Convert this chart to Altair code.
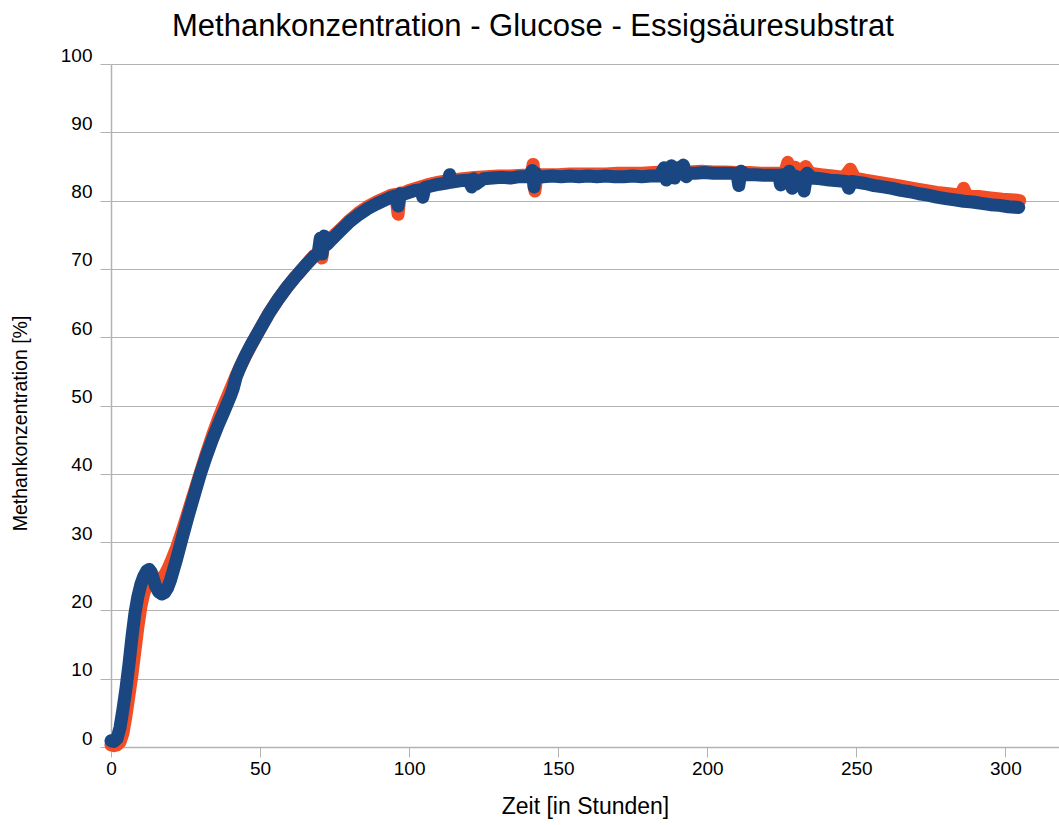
import altair as alt
import pandas as pd

TITLE = "Methankonzentration - Glucose - Essigsäuresubstrat"
X_TICKS = [0, 50, 100, 150, 200, 250, 300]
Y_TICKS = [0, 10, 20, 30, 40, 50, 60, 70, 80, 90, 100]

BLUE = [
    (0, 0.9), (1, 0.8), (2, 1.2), (3, 2.8), (4, 5.5), (5, 8.5), (6, 12), (7, 16), (8, 19.5),
    (9, 22), (10, 23.8), (11, 25), (12, 25.8), (12.8, 26), (13.5, 25.6), (14.3, 24.5), (15, 23.5),
    (16, 22.7), (17, 22.4), (18, 22.6), (19, 23.3), (20, 24.5), (21, 26), (22, 27.5), (24, 30.8),
    (26, 34), (28, 37), (30, 40), (32, 42.6), (34, 45), (36, 47.2), (38, 49.2), (40, 51.3),
    (41, 52.5), (42, 54.2), (43, 55.3), (45, 57.2), (47, 58.9), (50, 61.2), (53, 63.5), (56, 65.5),
    (59, 67.3), (62, 68.9), (65, 70.4), (68, 71.8), (69.5, 72.3), (70.2, 74.5), (70.8, 72.2),
    (71.5, 74.8), (72.5, 73.6), (74, 74.3), (77, 75.6), (80, 76.9), (83, 77.9), (86, 78.8),
    (89, 79.5), (92, 80.1), (94, 80.5), (95.5, 80.7), (96.3, 79.2), (97, 81.0), (98, 80.9),
    (100, 81.2), (102, 81.5), (104, 81.6), (104.6, 80.5), (105.3, 81.9), (107, 82.1), (110, 82.4),
    (113, 82.6), (113.6, 83.8), (114.3, 82.7), (117, 82.9), (120, 83.0), (121, 82.0), (121.7, 83.2),
    (122.4, 82.4), (125, 83.2), (128, 83.3), (131, 83.4), (134, 83.3), (137, 83.5), (140, 83.5),
    (141.3, 84.4), (141.9, 82.0), (142.5, 84.0), (143.2, 83.4), (145, 83.5), (148, 83.6),
    (151, 83.5), (154, 83.6), (157, 83.5), (160, 83.6), (163, 83.5), (166, 83.6), (169, 83.5),
    (172, 83.5), (175, 83.6), (178, 83.5), (181, 83.6), (184, 83.6), (185.5, 84.8), (186.3, 83.0),
    (187, 84.1), (188, 85.1), (189, 83.3), (190, 84.8), (191, 83.9), (192, 85.2), (193, 83.5),
    (194, 84.0), (196, 84.0), (199, 84.1), (202, 84.0), (205, 84.0), (208, 84.0), (210, 83.9),
    (210.6, 82.2), (211.3, 84.3), (213, 83.8), (216, 83.8), (219, 83.7), (222, 83.7), (224, 83.7),
    (224.6, 82.3), (225.3, 83.8), (226.5, 83.0), (227.5, 84.3), (228.5, 81.8), (229.5, 83.6),
    (230.5, 82.2), (231.5, 83.4), (232.5, 81.4), (233.5, 84.0), (235, 83.3), (238, 83.2),
    (241, 83.0), (244, 82.9), (246.5, 82.8), (247.5, 81.8), (248.5, 82.8), (250, 82.7),
    (253, 82.5), (256, 82.2), (259, 82.0), (262, 81.8), (265, 81.5), (268, 81.3), (271, 81.0),
    (274, 80.8), (277, 80.5), (280, 80.3), (283, 80.1), (286, 79.9), (289, 79.8), (292, 79.6),
    (295, 79.4), (298, 79.3), (301, 79.1), (304.5, 79.0),
]

ORANGE = [
    (0, 0.3), (1, 0.2), (2, 0.3), (3, 0.7), (4, 2.0), (5, 4.5), (6, 7.5), (7, 10.5), (8, 14),
    (9, 17.5), (10, 20.5), (11, 22.5), (12, 23.7), (13, 24.3), (14, 24.6), (15, 24.7), (16, 24.6),
    (17, 24.7), (18, 25.2), (19, 26.0), (20, 27.0), (22, 29.2), (24, 31.8), (26, 34.6), (28, 37.4),
    (30, 40.2), (32, 43.0), (34, 45.6), (36, 48.0), (38, 50.2), (40, 52.3), (42, 54.4), (44, 56.3),
    (46, 58.0), (48, 59.6), (50, 61.2), (53, 63.5), (56, 65.5), (59, 67.3), (62, 68.9), (65, 70.4),
    (68, 71.9), (70, 72.4), (70.7, 71.6), (71.5, 74.0), (73, 74.0), (75, 75.0), (77, 75.8),
    (80, 77.1), (83, 78.2), (86, 79.1), (89, 79.8), (92, 80.4), (94, 80.8), (95.5, 80.9),
    (96.3, 78.0), (97, 81.1), (98, 81.1), (100, 81.5), (103, 81.9), (106, 82.3), (110, 82.7),
    (114, 83.0), (118, 83.2), (122, 83.4), (126, 83.5), (130, 83.6), (134, 83.6), (138, 83.7),
    (141, 83.7), (141.6, 85.3), (142.2, 81.4), (142.9, 83.8), (146, 83.8), (150, 83.8),
    (154, 83.9), (158, 83.9), (162, 83.9), (166, 83.9), (170, 84.0), (174, 84.0), (178, 84.0),
    (182, 84.1), (186, 84.2), (190, 84.2), (194, 84.2), (198, 84.3), (202, 84.2), (206, 84.2),
    (210, 84.1), (214, 84.1), (218, 84.0), (222, 84.0), (226, 84.0), (227, 85.6), (228, 84.2),
    (229.5, 84.9), (231, 84.0), (233, 85.0), (234.5, 84.0), (238, 83.8), (242, 83.6), (246, 83.4),
    (248, 84.6), (249.5, 83.3), (253, 83.0), (257, 82.7), (261, 82.4), (265, 82.1), (269, 81.8),
    (273, 81.5), (277, 81.2), (281, 81.0), (285, 80.8), (286, 81.8), (287, 80.8), (291, 80.6),
    (295, 80.4), (299, 80.2), (303, 80.1), (304.8, 80.0),
]

BLUE_COLOR = "#1a4781"
ORANGE_COLOR = "#f24d24"
GRID = "#b3b3b3"
FONT = "Liberation Sans"

df_blue = pd.DataFrame(BLUE, columns=["t", "v"])
df_orange = pd.DataFrame(ORANGE, columns=["t", "v"])
df_title = pd.DataFrame({"title": [TITLE]})

x_enc = alt.X(
    "t:Q",
    scale=alt.Scale(domain=[0, 318], nice=False, zero=False),
    axis=alt.Axis(
        values=X_TICKS, title="Zeit [in Stunden]", grid=False, tickSize=10,
        labelPadding=2, labelFlush=False, labelOverlap=False, titleY=59,
        titleBaseline="middle", titleFontSize=23, labelFontSize=19,
    ),
)
y_enc = alt.Y(
    "v:Q",
    scale=alt.Scale(domain=[0, 100], nice=False),
    axis=alt.Axis(
        values=Y_TICKS, title="Methankonzentration [%]", grid=True, tickSize=11,
        labelPadding=8, labelBaseline="alphabetic", labelOffset=-3,
        titleAngle=270, titleX=-91, titleY=359, titleBaseline="middle",
        titleAlign="center", titleFontSize=19.5, labelFontSize=19,
    ),
)

line_kw = dict(strokeWidth=13, strokeCap="round", strokeJoin="round")

orange = alt.Chart(df_orange).mark_line(color=ORANGE_COLOR, **line_kw).encode(x=x_enc, y=y_enc)
blue = alt.Chart(df_blue).mark_line(color=BLUE_COLOR, **line_kw).encode(x=x_enc, y=y_enc)
title = alt.Chart(df_title).mark_text(
    font=FONT, fontSize=31, color="black", align="center", baseline="alphabetic"
).encode(text="title:N", x=alt.value(422), y=alt.value(-28))

chart = alt.layer(orange, blue, title).properties(
    width=948,
    height=683,
    autosize="none",
    padding={"left": 111, "top": 64, "right": 0, "bottom": 78},
    background="white",
).configure_view(stroke=None).configure_axis(
    labelFont=FONT, titleFont=FONT,
    labelColor="black", titleColor="black", titleFontWeight="normal",
    domainColor=GRID, tickColor=GRID, gridColor=GRID, gridWidth=1, domainWidth=1.5,
)

chart.save("out.html", embed_options={"renderer": "svg", "actions": False})
